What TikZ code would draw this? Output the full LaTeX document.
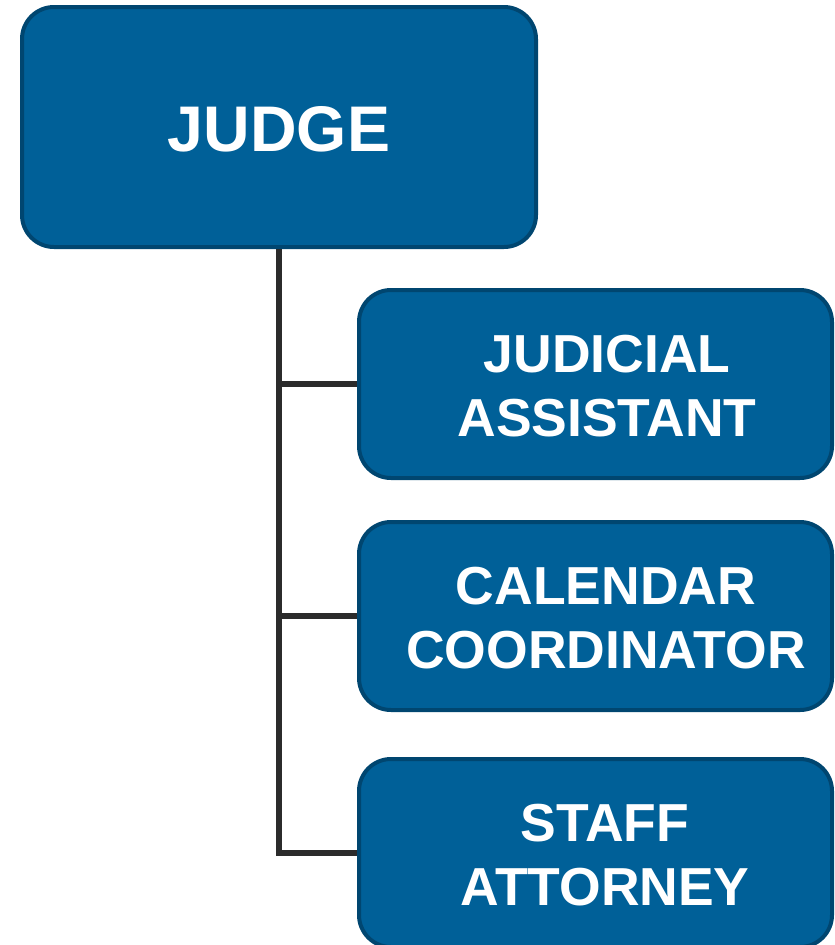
\documentclass[tikz,border=0pt]{standalone}
\usepackage{fontspec}
\setmainfont{Liberation Sans}
\definecolor{boxfill}{RGB}{0,96,152}
\definecolor{boxline}{RGB}{0,70,112}
\definecolor{connline}{RGB}{43,43,43}
\begin{document}
\begin{tikzpicture}[x=1pt,y=-1pt,
  box/.style={draw=boxline, fill=boxfill, line width=4pt, rounded corners=32pt, inner sep=0pt},
  bigbox/.style={box, minimum width=514pt, minimum height=240pt},
  subbox/.style={box, minimum width=473pt, minimum height=188pt},
  lbl/.style={text=white, font=\bfseries\fontsize{53.5}{64}\selectfont, align=center, inner sep=0pt},
  conn/.style={draw=connline, line width=6.5pt}]
\useasboundingbox (0,0) rectangle (835,945);
\node[bigbox] (judge) at (279,127) {};
\node[text=white, font=\bfseries\fontsize{64.5}{78}\selectfont, inner sep=0pt] (tjudge) at (279,129) {JUDGE};
\node[subbox] (ja) at (595.5,384) {};
\node[subbox] (cc) at (595.5,616) {};
\node[subbox] (sa) at (595.5,853) {};
\node[lbl] (tja) at (607,386) {JUDICIAL\\ASSISTANT};
\node[lbl] (tcc) at (606,618) {CALENDAR\\COORDINATOR};
\node[lbl] (tsa) at (605,855) {STAFF\\ATTORNEY};
\draw[conn] (judge.south) |- (sa.west);
\draw[conn] (judge.south |- ja.west) -- (ja.west);
\draw[conn] (judge.south |- cc.west) -- (cc.west);
\end{tikzpicture}
\end{document}
